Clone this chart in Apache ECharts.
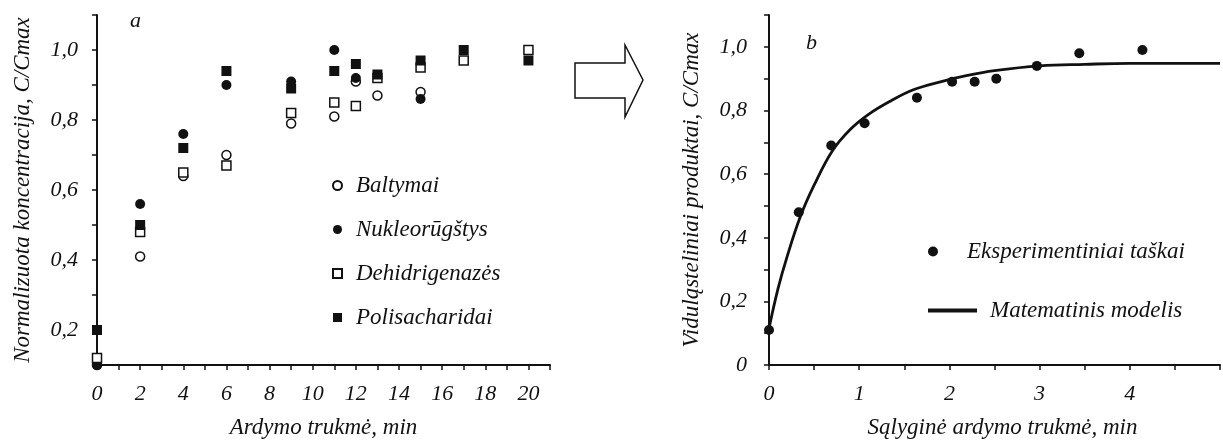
<!DOCTYPE html>
<html>
<head>
<meta charset="utf-8">
<script src="https://cdn.jsdelivr.net/npm/echarts@6/dist/echarts.min.js"></script>
<style>
html,body{margin:0;padding:0;background:#fff;}
#chart{width:1223px;height:444px;}
</style>
</head>
<body>
<div id="chart"></div>
<script>
// ---- Panel a data ----
const timesA = [0, 2, 4, 6, 9, 11, 12, 13, 15, 17, 20];
const baltymai = [0.10, 0.41, 0.64, 0.70, 0.79, 0.81, 0.91, 0.87, 0.88, null, null];
const nukleorugstys = [0.10, 0.56, 0.76, 0.90, 0.91, 1.00, 0.92, null, 0.86, null, null];
const dehidrigenazes = [0.12, 0.48, 0.65, 0.67, 0.82, 0.85, 0.84, 0.92, 0.95, 0.97, 1.00];
const polisacharidai = [0.20, 0.50, 0.72, 0.94, 0.89, 0.94, 0.96, 0.93, 0.97, 1.00, 0.97];
const seriesNamesA = ['Baltymai', 'Nukleorūgštys', 'Dehidrigenazės', 'Polisacharidai'];

// ---- Panel b data ----
const timesB = [0, 0.33, 0.69, 1.06, 1.64, 2.03, 2.28, 2.52, 2.97, 3.44, 4.14];
const experimental = [0.11, 0.48, 0.69, 0.76, 0.84, 0.89, 0.89, 0.90, 0.94, 0.98, 0.99];
const modelT = [0, 0.1, 0.2, 0.35, 0.5, 0.7, 0.9, 1.1, 1.35, 1.6, 1.9, 2.2, 2.5, 3, 3.5, 4, 4.5, 5];
const modelY = [0.115, 0.24, 0.34, 0.468, 0.565, 0.672, 0.74, 0.787, 0.83, 0.865, 0.89, 0.91, 0.925, 0.94, 0.945, 0.948, 0.948, 0.948];
const seriesNamesB = ['Eksperimentiniai taškai', 'Matematinis modelis'];

const FONT = '"Liberation Serif", "Times New Roman", serif';
const TXT = '#111';

function pairs(xs, ys) {
  const out = [];
  for (let i = 0; i < xs.length; i++) if (ys[i] !== null) out.push([xs[i], ys[i]]);
  return out;
}
function yFmt(v) {
  const r = Math.round(v * 10);
  if (r % 2) return '';
  if (r === 0) return '0';
  return (r / 10).toFixed(1).replace('.', ',');
}
const axisLine = { show: true, onZero: false, lineStyle: { color: '#111', width: 2 } };
const axisTick = { show: true, inside: false, length: 5, lineStyle: { color: '#111', width: 1.5 } };
const tickStyle = { fontFamily: FONT, fontStyle: 'italic', fontSize: 22, color: TXT };
const textStyle = { fontFamily: FONT, fontStyle: 'italic', fontSize: 23, color: TXT };

const chart = echarts.init(document.getElementById('chart'), null, { renderer: 'canvas' });

const option = {
  animation: false,
  backgroundColor: '#fff',
  grid: [
    { left: 97, top: 15, width: 453, height: 357, containLabel: false },
    { left: 769, top: 15, width: 461, height: 357, containLabel: false }
  ],
  xAxis: [
    {
      gridIndex: 0, type: 'value', min: 0, max: 21, interval: 1,
      axisLine: axisLine, axisTick: axisTick, splitLine: { show: false },
      axisLabel: Object.assign({ margin: 18, formatter: v => (Math.round(v) % 2 === 0 ? String(Math.round(v)) : '') }, tickStyle),
      name: 'Ardymo trukmė, min', nameLocation: 'middle', nameGap: 51,
      nameTextStyle: Object.assign({}, textStyle)
    },
    {
      gridIndex: 1, type: 'value', min: 0, max: 5, interval: 0.5,
      axisLine: axisLine, axisTick: axisTick, splitLine: { show: false },
      axisLabel: Object.assign({ margin: 18, formatter: v => (Math.abs(v - Math.round(v)) < 1e-6 && v < 4.9 ? String(Math.round(v)) : '') }, tickStyle),
      name: 'Sąlyginė ardymo trukmė, min', nameLocation: 'middle', nameGap: 51,
      nameTextStyle: Object.assign({ padding: [0, 0, 0, 16] }, textStyle)
    }
  ],
  yAxis: [
    {
      gridIndex: 0, type: 'value', min: 0.1, max: 1.1, interval: 0.1,
      axisLine: axisLine, axisTick: axisTick, splitLine: { show: false },
      axisLabel: Object.assign({ margin: 19, formatter: yFmt }, tickStyle),
      name: 'Normalizuota koncentracija, C/Cmax', nameLocation: 'middle', nameGap: 63,
      nameTextStyle: Object.assign({}, textStyle)
    },
    {
      gridIndex: 1, type: 'value', min: 0, max: 1.1, interval: 0.1,
      axisLine: axisLine, axisTick: axisTick, splitLine: { show: false },
      axisLabel: Object.assign({ margin: 22, formatter: yFmt }, tickStyle),
      name: 'Viduląsteliniai produktai, C/Cmax', nameLocation: 'middle', nameGap: 66,
      nameTextStyle: Object.assign({}, textStyle)
    }
  ],
  legend: [
    {
      data: seriesNamesA, orient: 'vertical', left: 332, top: 174, padding: 0,
      itemWidth: 9, itemHeight: 9, itemGap: 21,
      textStyle: Object.assign({ lineHeight: 23, padding: [0, 0, 0, 9] }, textStyle)
    },
    {
      data: [seriesNamesB[0]], orient: 'vertical', left: 928, top: 240, padding: 0,
      itemWidth: 10, itemHeight: 10,
      textStyle: Object.assign({ lineHeight: 23, padding: [0, 0, 0, 24] }, textStyle)
    },
    {
      data: [{ name: seriesNamesB[1], icon: 'rect', itemStyle: { color: '#111' } }],
      orient: 'vertical', left: 928, top: 299, padding: 0,
      itemWidth: 49, itemHeight: 4,
      textStyle: Object.assign({ lineHeight: 23, padding: [0, 0, 0, 8] }, textStyle)
    }
  ],
  series: [
    {
      name: seriesNamesA[0], type: 'scatter', xAxisIndex: 0, yAxisIndex: 0, clip: false,
      symbol: 'circle', symbolSize: 9,
      itemStyle: { color: '#fff', borderColor: '#111', borderWidth: 1.5, opacity: 1 },
      data: pairs(timesA, baltymai)
    },
    {
      name: seriesNamesA[1], type: 'scatter', xAxisIndex: 0, yAxisIndex: 0, clip: false,
      symbol: 'circle', symbolSize: 10,
      itemStyle: { color: '#111', opacity: 1 },
      data: pairs(timesA, nukleorugstys)
    },
    {
      name: seriesNamesA[2], type: 'scatter', xAxisIndex: 0, yAxisIndex: 0, clip: false,
      symbol: 'rect', symbolSize: 9,
      itemStyle: { color: '#fff', borderColor: '#111', borderWidth: 1.5, opacity: 1 },
      data: pairs(timesA, dehidrigenazes)
    },
    {
      name: seriesNamesA[3], type: 'scatter', xAxisIndex: 0, yAxisIndex: 0, clip: false,
      symbol: 'rect', symbolSize: 10,
      itemStyle: { color: '#111', opacity: 1 },
      data: pairs(timesA, polisacharidai)
    },
    {
      name: seriesNamesB[1], type: 'line', xAxisIndex: 1, yAxisIndex: 1, clip: false,
      smooth: 0.4, symbol: 'none', showSymbol: false, legendIcon: 'rect',
      lineStyle: { color: '#111', width: 2.8 },
      itemStyle: { color: '#111' },
      data: pairs(modelT, modelY)
    },
    {
      name: seriesNamesB[0], type: 'scatter', xAxisIndex: 1, yAxisIndex: 1, clip: false,
      symbol: 'circle', symbolSize: 10,
      itemStyle: { color: '#111', opacity: 1 },
      data: pairs(timesB, experimental)
    }
  ],
  graphic: [
    { type: 'text', left: 130, top: 10, style: { text: 'a', font: 'italic 22px ' + FONT, fill: TXT } },
    { type: 'text', left: 806, top: 32, style: { text: 'b', font: 'italic 22px ' + FONT, fill: TXT } },
    {
      type: 'polygon',
      shape: { points: [[575, 63], [625, 63], [625, 45], [643, 80], [625, 117], [625, 98], [575, 98]] },
      style: { fill: '#fff', stroke: '#111', lineWidth: 1.5 }
    }
  ]
};
chart.setOption(option);
</script>
</body>
</html>
